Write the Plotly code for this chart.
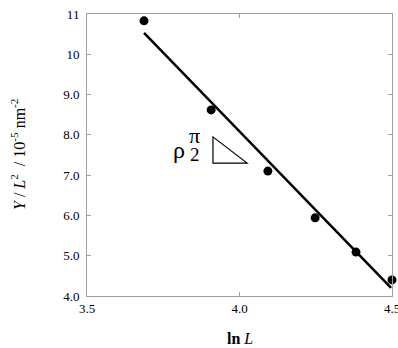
import plotly.graph_objects as go

# data
lnL = [3.687, 3.907, 4.093, 4.248, 4.382, 4.500]
Y_L2 = [10.83, 8.62, 7.10, 5.94, 5.09, 4.40]
fit_x = [3.687, 4.497]
fit_y = [10.53, 4.20]
ytick_vals = [4, 5, 6, 7, 8, 9, 10, 11]
ytick_text = ["4.0", "5.0", "6.0", "7.0", "8.0", "9.0", "10", "11"]
xtick_vals = [3.5, 4.0, 4.5]
xtick_text = ["3.5", "4.0", "4.5"]

serif = "Liberation Serif, Times New Roman, serif"

fig = go.Figure()
fig.add_trace(go.Scatter(x=fit_x, y=fit_y, mode="lines",
                         line=dict(color="black", width=2.5), showlegend=False))
fig.add_trace(go.Scatter(x=lnL, y=Y_L2, mode="markers", cliponaxis=False,
                         marker=dict(color="black", size=9), showlegend=False))

# slope triangle
fig.add_shape(type="path", path="M 3.913 7.95 L 3.913 7.30 L 4.025 7.30 Z",
              xref="x", yref="y", line=dict(color="black", width=1.2),
              fillcolor="rgba(0,0,0,0)")

fig.add_annotation(x=3.800, y=7.6, xref="x", yref="y", text="ρ", showarrow=False,
                   font=dict(family=serif, size=24, color="black"), yshift=1)
fig.add_annotation(x=3.853, y=7.6, xref="x", yref="y", text="π", showarrow=False,
                   yanchor="middle", borderpad=0,
                   font=dict(family=serif, size=22, color="black"), yshift=15)
fig.add_annotation(x=3.853, y=7.6, xref="x", yref="y", text="2", showarrow=False,
                   yanchor="middle", borderpad=0,
                   font=dict(family=serif, size=19, color="black"), yshift=-4)

axis_common = dict(showline=True, linecolor="#a0a0a0", linewidth=1, mirror="ticks",
                   ticks="inside", ticklen=4, tickcolor="#a0a0a0", showgrid=False,
                   zeroline=False, automargin=False,
                   tickfont=dict(family=serif, size=13, color="black"))

fig.update_xaxes(range=[3.5, 4.5], tickvals=xtick_vals, ticktext=xtick_text,
                 ticklabeloverflow="allow", **axis_common)
fig.update_yaxes(range=[4.0, 11.0], tickvals=ytick_vals, ticktext=ytick_text,
                 ticklabelstandoff=4, **axis_common)

fig.add_annotation(x=0, y=0.5, xref="paper", yref="paper", xanchor="center", yanchor="middle",
                   xshift=-69, textangle=-90, showarrow=False,
                   text="<i>Y</i> / <i>L</i><sup>2</sup>  / 10<sup>-5</sup> nm<sup>-2</sup>",
                   font=dict(family=serif, size=16, color="black"))
fig.add_annotation(x=0.5, y=0, xref="paper", yref="paper", xanchor="center", yanchor="middle",
                   yshift=-42, showarrow=False, text="<b>ln</b> <i>L</i>",
                   font=dict(family=serif, size=16, color="black"))

fig.update_layout(width=398, height=348, margin=dict(l=87, r=6, t=14, b=52),
                  plot_bgcolor="white", paper_bgcolor="white")
fig.write_html("out.html")
